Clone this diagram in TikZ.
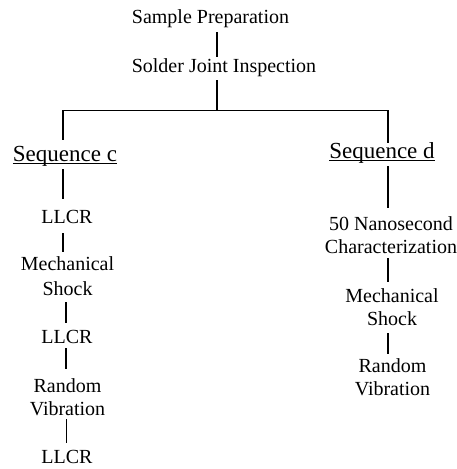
\documentclass[tikz,border=0pt]{standalone}
\usepackage{fontspec}
\setmainfont{Liberation Serif}
\usetikzlibrary{calc}
\begin{document}
\begin{tikzpicture}[x=1pt,y=-1pt,
  lbl/.style={anchor=base,inner sep=0pt,font=\fontsize{20}{23}\selectfont,align=center},
  seqlbl/.style={lbl,font=\fontsize{23}{26}\selectfont},
  conn/.style={line width=1.3pt},
  thinconn/.style={line width=0.7pt},
  uline/.style={line width=0.9pt}
]
\useasboundingbox (0,0) rectangle (457,469);
% top
\node[lbl] (prep) at (210.5,23) {Sample Preparation};
\node[lbl] (insp) at (224,72) {Solder Joint Inspection};
% left column (multi-line nodes are placed by their last baseline)
\node[seqlbl] (seqc) at (65,161) {Sequence c};
\node[lbl] (llc1) at (67,223) {LLCR};
\node[lbl] (mc) at (67.5,295) {Mechanical\\[2pt]Shock};
\node[lbl] (llc2) at (67,343) {LLCR};
\node[lbl] (rv) at (67.5,415) {Random\\Vibration};
\node[lbl] (llc3) at (67,463) {LLCR};
% right column
\node[seqlbl] (seqd) at (382,158) {Sequence d};
\node[lbl] (nano) at (391,253) {50 Nanosecond\\Characterization};
\node[lbl] (mdr) at (392,325) {Mechanical\\Shock};
\node[lbl] (rvr) at (392.5,395) {Random\\Vibration};
% junction points
\coordinate (jn) at (217,110);
\coordinate (jl) at (63,110);
\coordinate (jr) at (388,110);
% underlines
\draw[uline] ($(seqc.base west)+(0,2)$) -- ($(seqc.base east)+(0,2)$);
\draw[uline] ($(seqd.base west)+(0,2)$) -- ($(seqd.base east)+(0,2)$);
% connectors
\draw[conn] ($(prep.base)+(6.5,9)$) -- ($(insp.base)+(-7,-15)$);
\draw[conn] ($(insp.base)+(-7,8)$) -- (jn);
\draw[line width=0.9pt] (jl) -- (jr);
\draw[conn] (jl) -- ($(seqc.base)+(-2,-21)$);
\draw[conn] (jr) -- ($(seqd.base)+(6,-15)$);
\draw[conn] ($(seqc.base)+(-2,8)$) -- ($(llc1.base)+(-4,-24)$);
\draw[conn] ($(llc1.base)+(-4,10)$) -- ($(mc.base)+(-4.5,-43)$);
\draw[conn] ($(mc.base)+(-1.5,7)$) -- ($(llc2.base)+(-1,-20)$);
\draw[conn] ($(llc2.base)+(-1,5)$) -- ($(rv.base)+(-1.5,-46)$);
\draw[thinconn] ($(rv.base)+(-1.5,4)$) -- ($(llc3.base)+(-1,-20)$);
\draw[conn] ($(seqd.base)+(6,8)$) -- ($(nano.base)+(-3,-45)$);
\draw[conn] ($(nano.base)+(-3,5)$) -- ($(mdr.base)+(-4,-43)$);
\draw[conn] ($(mdr.base)+(-4,8)$) -- ($(rvr.base)+(-4.5,-41)$);
\end{tikzpicture}
\end{document}
